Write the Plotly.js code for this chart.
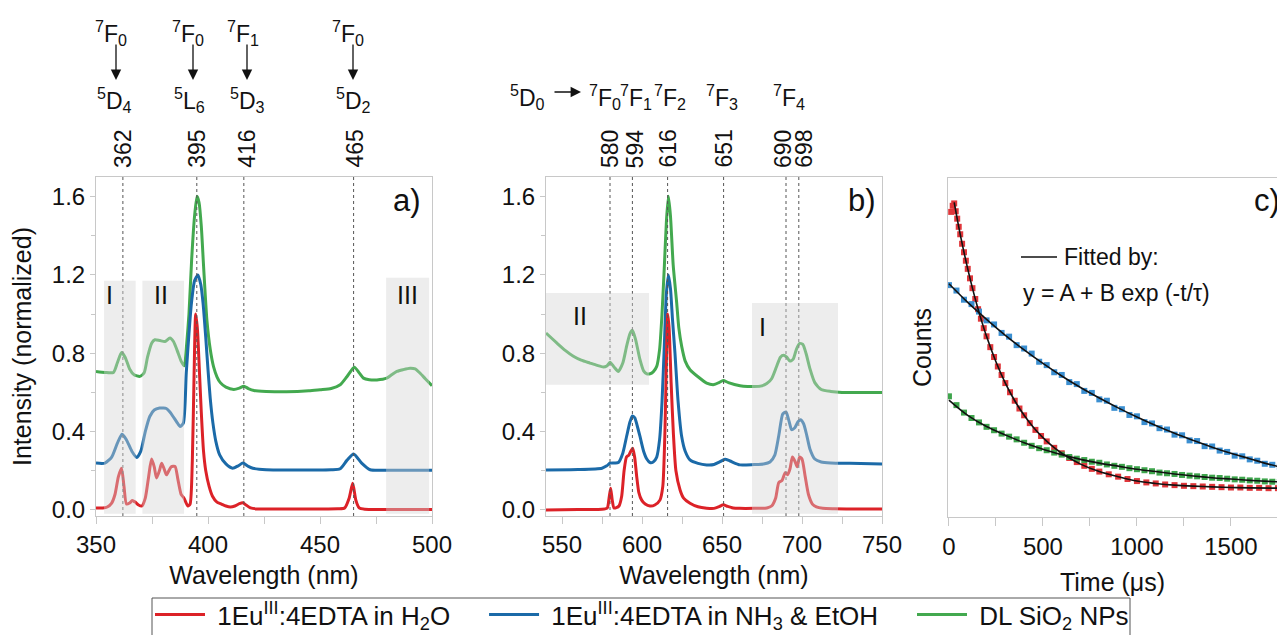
<!DOCTYPE html>
<html><head><meta charset="utf-8">
<script src="https://cdn.plot.ly/plotly-3.0.1.min.js"></script>
<style>html,body{margin:0;padding:0;background:#fff;}#chart{width:1277px;height:635px;}</style>
</head><body><div id="chart"></div>
<script>
// ---------- data: panel a (excitation) ----------
const seriesNames = ['1Eu<sup>III</sup>:4EDTA in H<sub>2</sub>O', '1Eu<sup>III</sup>:4EDTA in NH<sub>3</sub> &amp; EtOH', 'DL SiO<sub>2</sub> NPs'];
const xaRed = [350,353,355,357,358.5,360,361.4,362.5,363.6,365,366.2,367.5,369,370.5,372,373.5,374.8,376,377,378.3,379.3,380.4,381.5,382.5,383.6,385.3,386.5,388,389.3,391,392,393,393.8,394.5,395.3,396.2,397,398,399,400.5,402,404,406,408,410,412,414,415.5,417,419,422,430,440,450,458,461,463,464.6,466,467.5,470,480,490,500];
const yaRed  = [0.010,0.010,0.015,0.035,0.08,0.17,0.213,0.12,0.03,0.035,0.048,0.04,0.025,0.02,0.06,0.17,0.26,0.22,0.163,0.2,0.238,0.21,0.179,0.2,0.22,0.222,0.16,0.08,0.06,0.02,0.03,0.25,0.7,1.0,0.92,0.7,0.5,0.3,0.2,0.12,0.07,0.04,0.03,0.02,0.015,0.02,0.032,0.037,0.025,0.01,0.005,0.005,0.005,0.005,0.006,0.01,0.06,0.136,0.05,0.01,0.003,0.002,0.002,0.002];
const xaBlue = [350,354,357,359.5,361.6,363.5,366,368.2,370,372,374,376,378.4,380,381.4,383,384.4,386,387.5,389,390.3,391.5,392.6,394,395.5,396.8,397.8,399,400,401,402.2,403.5,405.2,408,411,413.5,415.6,418,420,426,440,455,459,462,465,468.6,472.4,480,490,500];
const yaBlue = [0.239,0.239,0.27,0.34,0.387,0.36,0.30,0.268,0.30,0.40,0.477,0.51,0.52,0.52,0.518,0.50,0.477,0.45,0.426,0.443,0.70,0.90,1.055,1.17,1.20,1.15,1.055,0.88,0.716,0.57,0.443,0.35,0.281,0.235,0.213,0.225,0.239,0.222,0.213,0.205,0.204,0.205,0.21,0.253,0.286,0.239,0.205,0.203,0.203,0.203];
const xaGreen = [350,354,357.8,359.5,361.4,363,365,367,369.6,371.5,373,374.9,376.3,378.5,380.8,383,384.6,386.7,388,389.4,390.5,391.5,392.7,394,395.1,396,397,398,399.5,401,402.5,404,405.5,408,411.5,414,416,418,420.5,426,435,445,450,455,459,462,465.3,467.5,469.4,472,475.4,479.8,482,484.3,487,490.2,492.5,494.6,497,500];
const yaGreen = [0.707,0.702,0.702,0.75,0.804,0.78,0.72,0.69,0.682,0.70,0.78,0.852,0.869,0.865,0.86,0.878,0.860,0.80,0.76,0.736,0.85,1.0,1.278,1.5,1.602,1.57,1.45,1.25,0.97,0.82,0.73,0.68,0.65,0.627,0.615,0.622,0.632,0.62,0.61,0.605,0.603,0.608,0.614,0.62,0.639,0.68,0.729,0.70,0.673,0.665,0.664,0.673,0.69,0.707,0.716,0.724,0.72,0.699,0.67,0.634];

// ---------- data: panel b (emission) ----------
const xbRed = [540,560,575,578.3,579.4,580.4,581.4,582.5,584,585.6,587.3,588.8,590.3,591.8,593,594.2,595.4,596.7,598,599.8,602,605,608,611.2,613,614.4,615.4,616.1,617,618.2,619.6,621.2,623.8,626,630,635,640.4,645,648.5,650.8,653.5,657,661,670,678,681,683.5,685.5,687.5,689.5,691,692.5,694,695.5,697,698.5,700,702,704,706.5,709,713,720,735,750];
const ybRed  = [0.0,0.002,0.003,0.01,0.06,0.111,0.05,0.01,0.012,0.02,0.07,0.2,0.27,0.28,0.30,0.315,0.27,0.17,0.09,0.05,0.03,0.02,0.025,0.05,0.12,0.42,0.82,1.0,0.92,0.65,0.392,0.2,0.102,0.06,0.034,0.016,0.009,0.008,0.018,0.026,0.018,0.01,0.008,0.008,0.01,0.02,0.06,0.14,0.15,0.19,0.18,0.21,0.27,0.25,0.22,0.27,0.26,0.17,0.08,0.03,0.015,0.008,0.006,0.005,0.005];
const xbBlue = [540,560,575,578,580,583,585.2,588,590.5,592.5,594,595.5,597,598.75,601,603,605,607,609.2,611,612.5,614,615.2,616.5,617.8,619,620.6,622.5,624.8,627,630,635,640.4,645,648.5,651.9,655,661.25,670,676,680,683,685.5,688,690,692,693.5,695.5,697.5,699,701,703,705,708,712,718,730,750];
const ybBlue = [0.204,0.206,0.213,0.225,0.239,0.24,0.242,0.29,0.38,0.45,0.48,0.47,0.43,0.375,0.3,0.26,0.242,0.245,0.27,0.36,0.55,0.85,1.1,1.2,1.13,0.98,0.801,0.56,0.375,0.3,0.256,0.238,0.230,0.232,0.245,0.259,0.25,0.23,0.232,0.235,0.245,0.28,0.38,0.49,0.5,0.45,0.41,0.42,0.45,0.46,0.44,0.38,0.31,0.26,0.245,0.24,0.238,0.235];
const xbGreen = [540,546.7,552,557.1,562,567.5,572,575.8,578,580,582.5,585.2,588,590.5,592.5,594,596,598.75,601,603,605,607,609.2,611,612.5,614,615.3,616.5,617.8,619.5,621.7,623,624.8,627,630,635,640.4,645,648,650.8,654,661.25,666,669.6,674,678,681,684,686.5,688.5,690.5,692.5,694.5,696.5,698.5,700.5,702.5,705,708,712,718,725,735,750];
const ybGreen = [0.903,0.853,0.815,0.785,0.765,0.75,0.738,0.730,0.735,0.754,0.73,0.707,0.75,0.84,0.9,0.917,0.87,0.767,0.71,0.695,0.695,0.705,0.733,0.82,1.0,1.25,1.48,1.602,1.5,1.25,1.056,0.93,0.835,0.76,0.716,0.68,0.648,0.64,0.65,0.661,0.65,0.634,0.63,0.630,0.632,0.645,0.67,0.73,0.78,0.79,0.78,0.76,0.77,0.82,0.85,0.845,0.8,0.72,0.65,0.615,0.605,0.6,0.6,0.6];

// ---------- data: panel c (decay) ----------
const tRedPts = [12,20,28,36,44,52,60,70,80,90,100,112,125,140,155,170,185,200,220,240,260,280,300,325,350,375,400,430,460,490,520,560,600,640,680,720,760,800,850,900,950,1000,1050,1100,1150,1200,1250,1300,1350,1400,1450,1500,1550,1600,1650,1700,1750];
const cRedPts = [0.90,0.918,0.925,0.902,0.88,0.856,0.834,0.806,0.781,0.756,0.732,0.704,0.675,0.643,0.613,0.585,0.557,0.533,0.501,0.472,0.444,0.419,0.395,0.368,0.343,0.320,0.300,0.277,0.257,0.239,0.223,0.204,0.188,0.174,0.162,0.151,0.142,0.134,0.126,0.119,0.112,0.106,0.102,0.099,0.096,0.094,0.092,0.091,0.090,0.089,0.088,0.087,0.087,0.086,0.086,0.085,0.085];
const tPts = [0,40,80,120,160,200,240,280,320,360,400,440,480,520,560,600,640,680,720,760,800,840,880,920,960,1000,1040,1080,1120,1160,1200,1240,1280,1320,1360,1400,1440,1480,1520,1560,1600,1640,1680,1720,1760];
const cBluePts = [0.684,0.668,0.641,0.628,0.606,0.580,0.568,0.543,0.532,0.507,0.497,0.482,0.458,0.448,0.427,0.419,0.398,0.392,0.372,0.366,0.347,0.343,0.322,0.318,0.301,0.297,0.280,0.276,0.262,0.258,0.243,0.241,0.226,0.224,0.209,0.208,0.196,0.192,0.181,0.179,0.170,0.166,0.157,0.154,0.148];
const cGreenPts = [0.356,0.330,0.308,0.292,0.279,0.266,0.256,0.246,0.237,0.229,0.219,0.210,0.203,0.197,0.190,0.184,0.177,0.172,0.168,0.163,0.160,0.155,0.151,0.148,0.144,0.141,0.138,0.135,0.131,0.129,0.127,0.124,0.122,0.120,0.118,0.116,0.115,0.113,0.111,0.110,0.108,0.107,0.105,0.104,0.103];
const tRedFit = [28,50,75,100,125,150,175,200,250,300,350,400,450,500,550,600,700,800,900,1000,1100,1200,1300,1400,1500,1600,1750];
const cRedFit = [0.928,0.862,0.794,0.732,0.675,0.623,0.576,0.533,0.458,0.395,0.343,0.300,0.264,0.234,0.209,0.188,0.156,0.134,0.119,0.106,0.099,0.094,0.091,0.089,0.087,0.086,0.085];
const tFit = [0,100,200,300,400,500,600,700,800,900,1000,1100,1200,1300,1400,1500,1600,1700,1750];
const cBlueFit = [0.688,0.633,0.583,0.536,0.493,0.453,0.416,0.382,0.351,0.322,0.295,0.270,0.247,0.226,0.206,0.188,0.172,0.156,0.149];
const cGreenFit = [0.345,0.300,0.267,0.242,0.219,0.200,0.184,0.170,0.159,0.150,0.141,0.134,0.127,0.121,0.116,0.112,0.108,0.105,0.104];

// ---------- annotation content ----------
const exLines = [362,395,416,465];
const exLabels = ['362','395','416','465'];
const exFrom = ['<sup>7</sup>F<sub>0</sub>','<sup>7</sup>F<sub>0</sub>','<sup>7</sup>F<sub>1</sub>','<sup>7</sup>F<sub>0</sub>'];
const exTo = ['<sup>5</sup>D<sub>4</sub>','<sup>5</sup>L<sub>6</sub>','<sup>5</sup>D<sub>3</sub>','<sup>5</sup>D<sub>2</sub>'];
const emLines = [580,594,616,651,690,698];
const emLabels = ['580','594','616','651','690','698'];
const emTo = ['<sup>7</sup>F<sub>0</sub>','<sup>7</sup>F<sub>1</sub>','<sup>7</sup>F<sub>2</sub>','<sup>7</sup>F<sub>3</sub>','<sup>7</sup>F<sub>4</sub>'];

const FONT = 'Liberation Sans, Arial, Helvetica, sans-serif';
const W = 1277, H = 635;
const P = px => px / W, Q = py => 1 - py / H;
const RED = '#dc2228', BLUE = '#1b6aa8', GREEN = '#43a94f';
const NB = '\u00a0';

const traces = [];
function spec(x, y, color, xa, ya, name, show, rank) {
  traces.push({x, y, type:'scatter', mode:'lines', line:{color, width:3, shape:'spline', smoothing:0.6},
    xaxis:xa, yaxis:ya, name, showlegend:show, legendrank:rank, hoverinfo:'skip'});
}
spec(xaGreen, yaGreen, GREEN, 'x', 'y', NB + seriesNames[2], true, 3);
spec(xaBlue, yaBlue, BLUE, 'x', 'y', NB + seriesNames[1] + NB.repeat(4), true, 2);
spec(xaRed, yaRed, RED, 'x', 'y', NB + seriesNames[0] + NB.repeat(4), true, 1);
spec(xbGreen, ybGreen, GREEN, 'x2', 'y2', 'g', false, 3);
spec(xbBlue, ybBlue, BLUE, 'x2', 'y2', 'b', false, 2);
spec(xbRed, ybRed, RED, 'x2', 'y2', 'r', false, 1);

function pts(x, y, color) {
  traces.push({x, y, type:'scatter', mode:'markers', marker:{symbol:'square', size:6, color},
    xaxis:'x3', yaxis:'y3', showlegend:false, hoverinfo:'skip'});
}
pts(tRedPts, cRedPts, '#e0363a');
pts(tPts, cBluePts, '#3b8fd1');
pts(tPts, cGreenPts, '#3ea54c');
function fit(x, y) {
  traces.push({x, y, type:'scatter', mode:'lines', line:{color:'#111', width:1.6, shape:'spline'},
    xaxis:'x3', yaxis:'y3', showlegend:false, hoverinfo:'skip'});
}
fit(tRedFit, cRedFit); fit(tFit, cBlueFit); fit(tFit, cGreenFit);

// ---------- shapes ----------
const shapes = [];
exLines.forEach(v => shapes.push({type:'line', xref:'x', yref:'y domain', x0:v, x1:v, y0:0, y1:1, line:{color:'#555', width:1, dash:'3px,3px'}}));
emLines.forEach(v => shapes.push({type:'line', xref:'x2', yref:'y2 domain', x0:v, x1:v, y0:0, y1:1, line:{color:'#555', width:1, dash:'3px,3px'}}));
const GR = 'rgba(212,212,212,0.42)';
function rect(xr, yr, x0, x1, y0, y1) { shapes.push({type:'rect', xref:xr, yref:yr, x0, x1, y0, y1, fillcolor:GR, line:{width:0}, layer:'above'}); }
rect('x','y',353.6,367.7,-0.02,1.17);
rect('x','y',370.7,389.3,-0.02,1.17);
rect('x','y',479.5,498.7,-0.02,1.185);
rect('x2','y2',540,604.4,0.639,1.108);
rect('x2','y2',668.75,722.5,-0.02,1.057);
shapes.push({type:'line', xref:'paper', yref:'paper', x0:P(1021), x1:P(1057), y0:Q(257), y1:Q(257), line:{color:'#111', width:1.5}});
// legend frame
shapes.push({type:'rect', xref:'paper', yref:'paper', x0:P(152), x1:P(1130), y0:-0.02, y1:Q(598), line:{color:'#555', width:1}, fillcolor:'rgba(0,0,0,0)'});

// ---------- annotations ----------
const ann = [];
const tf = (s) => ({size:s, color:'#111', family:FONT});
function txt(text, x, y, size, opts) { ann.push(Object.assign({text, x:P(x), y:Q(y), xref:'paper', yref:'paper', showarrow:false, font:tf(size), xanchor:'center', yanchor:'middle'}, opts||{})); }
// rotated wavelength labels
const exShift = [0,0,3,1];
exLines.forEach((v,i) => ann.push({text:exLabels[i], x:v, xref:'x', y:Q(149), yref:'paper', textangle:-90, showarrow:false, font:tf(23), xanchor:'center', yanchor:'middle', xshift:exShift[i]}));
const emShift = [0,3,0,0,-3,5];
emLines.forEach((v,i) => ann.push({text:emLabels[i], x:v, xref:'x2', y:Q(149), yref:'paper', textangle:-90, showarrow:false, font:tf(23), xanchor:'center', yanchor:'middle', xshift:emShift[i]}));
// excitation transitions
const fromX = [111,188,243,348], toX = [115,190,247,353], arrX = [116,193,247,353];
exFrom.forEach((t,i) => txt(t, fromX[i], 33, 23));
exTo.forEach((t,i) => txt(t, toX[i], 100, 23));
arrX.forEach(x => ann.push({text:'', x:P(x), y:Q(80), xref:'paper', yref:'paper', ax:0, ay:-37, showarrow:true, arrowhead:2, arrowsize:1.6, arrowwidth:1.3, arrowcolor:'#111'}));
// emission transitions
txt('<sup>5</sup>D<sub>0</sub>', 527, 97, 23);
ann.push({text:'', x:P(581), y:Q(92), xref:'paper', yref:'paper', ax:-28, ay:0, showarrow:true, arrowhead:2, arrowsize:1.6, arrowwidth:1.3, arrowcolor:'#111'});
const emToX = [605,636,670,722,789];
emTo.forEach((t,i) => txt(t, emToX[i], 97, 23));
// panel letters
txt('a)', 407, 200, 31); txt('b)', 862, 200, 31); txt('c)', 1252, 200, 31, {xanchor:'left'});
// region labels
function rl(t, x, y, xr, yr) { ann.push({text:t, x, y, xref:xr, yref:yr, showarrow:false, font:tf(25), xanchor:'center', yanchor:'middle'}); }
rl('I',356,1.10,'x','y'); rl('II',379,1.10,'x','y'); rl('III',489,1.10,'x','y');
rl('II',561,0.988,'x2','y2'); rl('I',675,0.935,'x2','y2');
// fit note
txt('Fitted by:', 1062, 257, 23, {xanchor:'left'});
txt('y = A + B exp (-t/\u03c4)', 1021, 293, 23, {xanchor:'left'});

// ---------- axes ----------
const base = {showline:true, linecolor:'#c8c8c8', linewidth:1, mirror:true, ticks:'outside', tickcolor:'#c8c8c8', ticklen:5,
  tickfont:{size:24, color:'#111', family:FONT}, showgrid:false, zeroline:false};
const yDom = [Q(516), Q(177)];
const yRange = [-0.031, 1.70];
const layout = {
  width:W, height:H, margin:{l:0, r:0, t:0, b:0, autoexpand:false}, paper_bgcolor:'#fff', plot_bgcolor:'#fff',
  font:{family:FONT, color:'#111'}, hovermode:false,
  xaxis: Object.assign({}, base, {domain:[P(96), P(432)], range:[350,500], dtick:50, tick0:0, anchor:'y', ticklen:7,
    minor:{dtick:25, ticks:'outside', ticklen:7, tickcolor:'#c8c8c8'},
    title:{text:'Wavelength (nm)', font:{size:25, color:'#111'}, standoff:9}}),
  yaxis: Object.assign({}, base, {domain:yDom, range:yRange, dtick:0.4, tick0:0, tickformat:'.1f', anchor:'x',
    minor:{dtick:0.2, ticks:'outside', ticklen:4, tickcolor:'#c8c8c8'},
    title:{text:'Intensity (normalized)', font:{size:25, color:'#111'}, standoff:13}}),
  xaxis2: Object.assign({}, base, {domain:[P(546), P(882)], range:[540,750], dtick:50, tick0:0, anchor:'y2', ticklen:7,
    minor:{dtick:25, ticks:'outside', ticklen:7, tickcolor:'#c8c8c8'},
    title:{text:'Wavelength (nm)', font:{size:25, color:'#111'}, standoff:9}}),
  yaxis2: Object.assign({}, base, {domain:yDom, range:yRange, dtick:0.4, tick0:0, tickformat:'.1f', anchor:'x2',
    minor:{dtick:0.2, ticks:'outside', ticklen:4, tickcolor:'#c8c8c8'}}),
  xaxis3: Object.assign({}, base, {domain:[P(948), 1], range:[-5,1745], dtick:500, tick0:0, anchor:'y3', ticklen:8,
    minor:{dtick:250, ticks:'outside', ticklen:8, tickcolor:'#c8c8c8'},
    title:{text:'Time (\u03bcs)', font:{size:25, color:'#111'}, standoff:14}}),
  yaxis3: Object.assign({}, base, {domain:[Q(517), Q(178)], range:[0,1], ticks:'', showticklabels:false, anchor:'x3',
    title:{text:'Counts', font:{size:25, color:'#111'}, standoff:8}}),
  legend:{orientation:'h', x:P(150), xanchor:'left', y:Q(591), yanchor:'top', borderwidth:0, itemwidth:50,
    bgcolor:'rgba(0,0,0,0)', font:{size:26, color:'#111', family:FONT}, traceorder:'normal'},
  shapes, annotations:ann
};
Plotly.newPlot('chart', traces, layout, {staticPlot:true, displayModeBar:false});
</script></body></html>
